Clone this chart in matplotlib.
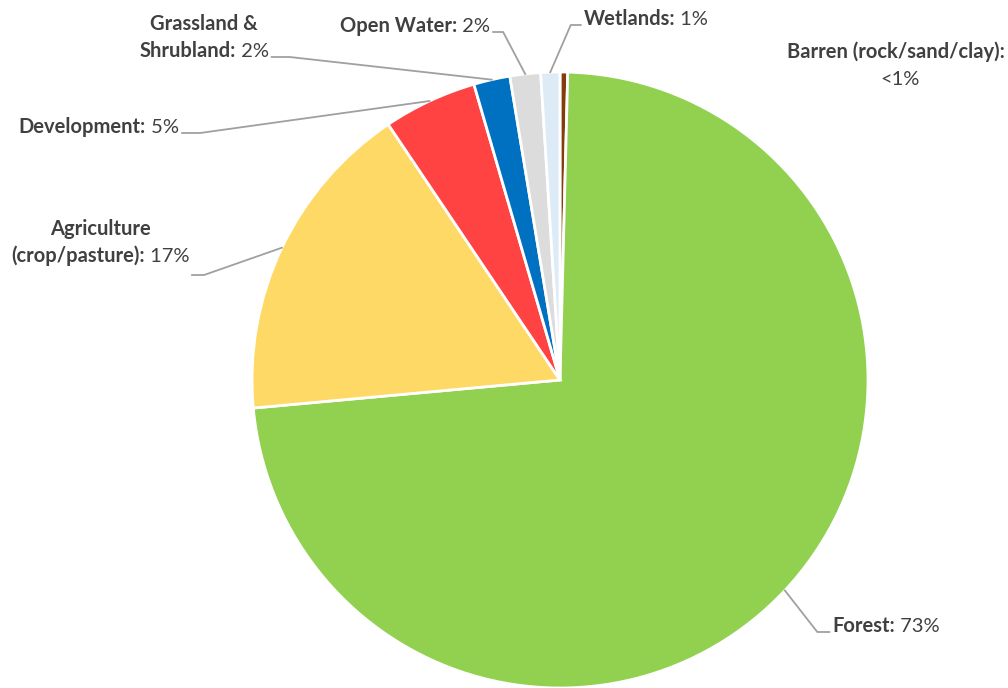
import matplotlib
matplotlib.use("Agg")
import matplotlib.pyplot as plt
import numpy as np

# ---- data ----
categories = ["Barren (rock/sand/clay)", "Forest", "Agriculture (crop/pasture)",
              "Development", "Grassland & Shrubland", "Open Water", "Wetlands"]
values = [0.4, 73.0, 17.0, 4.9, 1.9, 1.6, 1.0]
pct_labels = ["<1%", "73%", "17%", "5%", "2%", "2%", "1%"]
colors = ["#843C0C", "#92D050", "#FFD966", "#FF4343", "#0070C0", "#DCDCDC", "#DDEBF7"]

W, H = 1008, 688
fig = plt.figure(figsize=(W / 100, H / 100), dpi=100)
fig.patch.set_facecolor("white")

cx, cy, R = 560, 380, 308
ax = fig.add_axes([(cx - R) / W, (H - cy - R) / H, 2 * R / W, 2 * R / H])
wedges, _ = ax.pie(values, colors=colors, startangle=90, counterclock=False,
                   radius=1.0, wedgeprops=dict(edgecolor="white", linewidth=2))
ax.set_xlim(-1, 1)
ax.set_ylim(-1, 1)
ax.set_aspect("equal")
ax.axis("off")

FONT = "Lato"
FS = 14.5
TXT = "#404040"
LINE = "#A0A0A0"

renderer = fig.canvas.get_renderer()


def px(x, y):
    return x / W, 1 - y / H


def text_width(s, weight):
    t = fig.text(0, 0, s, fontsize=FS, family=FONT, fontweight=weight)
    bb = t.get_window_extent(renderer)
    t.remove()
    return bb.width


def draw_line_parts(xc, yb, parts):
    """Draw a line of mixed-weight text centred at xc (px), baseline yb (px)."""
    widths = [text_width(s, w) for s, w in parts]
    total = sum(widths)
    x = xc - total / 2
    for (s, w), wd in zip(parts, widths):
        fig.text(*px(x, yb), s, fontsize=FS, family=FONT, fontweight=w,
                 color=TXT, ha="left", va="baseline")
        x += wd
    return xc - total / 2, xc + total / 2


def wedge_point(i, r=1.0):
    w = wedges[i]
    ang = np.deg2rad((w.theta1 + w.theta2) / 2)
    x, y = r * np.cos(ang), r * np.sin(ang)
    return cx + x * R, cy - y * R


def leader(pts):
    xs = [p[0] / W for p in pts]
    ys = [1 - p[1] / H for p in pts]
    fig.add_artist(plt.Line2D(xs, ys, transform=fig.transFigure, color=LINE, lw=1.3))


# label layout: (index, [(centre_x, baseline_y, parts)], leader side, leader y, horiz length)
layout = [
    (0, [(896, 58, [("Barren (rock/sand/clay):", "bold")]),
         (900, 85, [(pct_labels[0], "normal")])], None, 0, 0),
    (1, [(886, 632, [("Forest:", "bold"), (" " + pct_labels[1], "normal")])], "left", 632, 12),
    (2, [(100, 235, [("Agriculture", "bold")]),
         (100, 262, [("(crop/pasture):", "bold"), (" " + pct_labels[2], "normal")])], "right", 275, 12),
    (3, [(99, 133, [("Development:", "bold"), (" " + pct_labels[3], "normal")])], "right", 133, 18),
    (4, [(204, 30, [("Grassland &", "bold")]),
         (204, 57, [("Shrubland:", "bold"), (" " + pct_labels[4], "normal")])], "right", 57, 18),
    (5, [(415, 32, [("Open Water:", "bold"), (" " + pct_labels[5], "normal")])], "right", 32, 10),
    (6, [(646, 25, [("Wetlands:", "bold"), (" " + pct_labels[6], "normal")])], "left", 25, 10),
]

for idx, lines, side, ly, hl in layout:
    ext = None
    for xc, yb, parts in lines:
        ext = draw_line_parts(xc, yb, parts)
    if side is None:
        continue
    tx, ty = wedge_point(idx, 1.0)
    if side == "right":
        x0 = ext[1] + 3
        leader([(x0, ly), (x0 + hl, ly), (tx, ty)])
    else:
        x0 = ext[0] - 3
        leader([(x0, ly), (x0 - hl, ly), (tx, ty)])

fig.savefig("out.png", dpi=100, facecolor="white")
